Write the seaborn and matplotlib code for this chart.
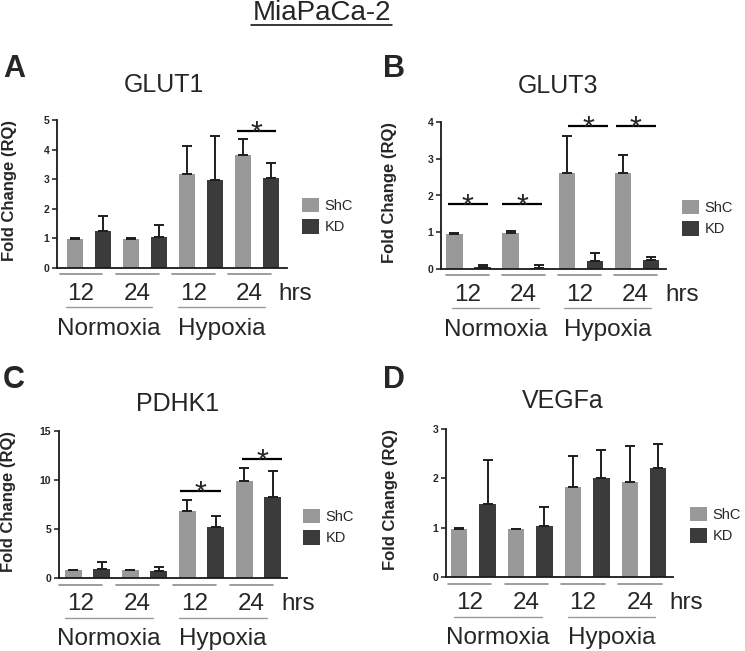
import numpy as np
import pandas as pd
import seaborn as sns
import matplotlib
matplotlib.use("Agg")
import matplotlib.pyplot as plt
from matplotlib.transforms import blended_transform_factory, ScaledTranslation
from matplotlib.lines import Line2D

# ---------------- data ----------------
conditions = ["Normoxia 12", "Normoxia 24", "Hypoxia 12", "Hypoxia 24"]
hour_labels = ["12", "24", "12", "24"]
oxygen_labels = ["Normoxia", "Hypoxia"]
groups = ["ShC", "KD"]

glut1_shc = [0.97, 0.97, 3.18, 3.81]
glut1_shc_top = [1.00, 1.00, 4.12, 4.36]
glut1_kd = [1.25, 1.05, 2.97, 3.04]
glut1_kd_top = [1.76, 1.44, 4.45, 3.56]

glut3_shc = [0.96, 0.99, 2.60, 2.60]
glut3_shc_top = [0.97, 1.04, 3.62, 3.10]
glut3_kd = [0.06, 0.04, 0.23, 0.24]
glut3_kd_top = [0.12, 0.11, 0.44, 0.34]

pdhk1_shc = [0.85, 0.85, 6.80, 9.88]
pdhk1_shc_top = [0.85, 0.85, 7.95, 11.25]
pdhk1_kd = [0.87, 0.75, 5.20, 8.30]
pdhk1_kd_top = [1.60, 1.10, 6.30, 10.90]

vegfa_shc = [0.98, 0.98, 1.83, 1.93]
vegfa_shc_top = [1.00, 0.98, 2.45, 2.66]
vegfa_kd = [1.48, 1.04, 2.00, 2.21]
vegfa_kd_top = [2.38, 1.41, 2.57, 2.70]

# significance: (condition index, level, x shift)
glut1_sig = [(3, 4.63, 0.0)]
glut3_sig = [(0, 1.76, 0.0), (1, 1.76, -0.03), (2, 3.88, 0.15), (3, 3.88, 0.0)]
pdhk1_sig = [(2, 8.88, 0.0), (3, 12.1, 0.08)]
vegfa_sig = []

panels = [
    dict(letter="A", title="GLUT1", shc=glut1_shc, shc_top=glut1_shc_top, kd=glut1_kd, kd_top=glut1_kd_top,
         sig=glut1_sig, yticks=[0, 1, 2, 3, 4, 5], under_shift=-0.14,
         rect=(57, 287, 120, 268), xlim=(-0.57, 3.53), title_xy=(164, 91.7), letter_xy=(3, 77),
         ylab_xy=(9.5, 190.5), leg_xy=(302, 198)),
    dict(letter="B", title="GLUT3", shc=glut3_shc, shc_top=glut3_shc_top, kd=glut3_kd, kd_top=glut3_kd_top,
         sig=glut3_sig, yticks=[0, 1, 2, 3, 4], under_shift=-0.02,
         rect=(441, 666, 122, 269), xlim=(-0.49, 3.52), title_xy=(558, 93.3), letter_xy=(383, 77),
         ylab_xy=(389, 192), leg_xy=(682, 200)),
    dict(letter="C", title="PDHK1", shc=pdhk1_shc, shc_top=pdhk1_shc_top, kd=pdhk1_kd, kd_top=pdhk1_kd_top,
         sig=pdhk1_sig, yticks=[0, 5, 10, 15], under_shift=-0.12,
         rect=(59, 287, 431, 578), xlim=(-0.50, 3.50), title_xy=(177.5, 410.7), letter_xy=(3, 388),
         ylab_xy=(9, 502), leg_xy=(303, 509)),
    dict(letter="D", title="VEGFa", shc=vegfa_shc, shc_top=vegfa_shc_top, kd=vegfa_kd, kd_top=vegfa_kd_top,
         sig=vegfa_sig, yticks=[0, 1, 2, 3], under_shift=-0.07,
         rect=(446, 673, 429, 577), xlim=(-0.48, 3.51), title_xy=(562.5, 408.3), letter_xy=(383, 388),
         ylab_xy=(391, 500), leg_xy=(690, 507)),
]

# ---------------- style ----------------
sns.set_style("ticks")
plt.rcParams["font.family"] = ["Liberation Sans", "DejaVu Sans"]
W, H = 745, 651
fig = plt.figure(figsize=(W / 100, H / 100), dpi=100)
c_shc, c_kd = "#999999", "#3b3b3b"
big = 17.5


def fx(x):
    return x / W


def fy(y):
    return 1 - y / H


def below(ax, px):
    return blended_transform_factory(ax.transData, ax.transAxes) + \
        ScaledTranslation(0, -px / 100, fig.dpi_scale_trans)


fig.text(fx(322), fy(20), "MiaPaCa-2", fontsize=20, ha="center", va="baseline")
fig.add_artist(Line2D([fx(251.5), fx(392.5)], [fy(24.5), fy(24.5)], color="black", lw=1.1,
                      transform=fig.transFigure))

for p in panels:
    l, r, t, b = p["rect"]
    ax = fig.add_axes([fx(l), fy(b), (r - l) / W, (b - t) / H])
    df = pd.DataFrame({
        "condition": conditions * 2,
        "group": [groups[0]] * 4 + [groups[1]] * 4,
        "value": list(p["shc"]) + list(p["kd"]),
    })
    sns.barplot(data=df, x="condition", y="value", hue="group", order=conditions, hue_order=groups,
                palette=[c_shc, c_kd], saturation=1, width=1.0, gap=0.42, errorbar=None,
                legend=False, ax=ax, linewidth=0)
    # error bars (upper only)
    for cont, means, tops in zip(ax.containers, [p["shc"], p["kd"]], [p["shc_top"], p["kd_top"]]):
        xs = [bar.get_x() + bar.get_width() / 2 for bar in cont]
        means = np.array(means)
        up = np.array(tops) - means
        ax.errorbar(xs, means, yerr=[np.zeros_like(up), up], fmt="none", ecolor="#1e1e1e",
                    elinewidth=1.4, capsize=3.8, capthick=1.4, zorder=3)

    ymax = p["yticks"][-1]
    ax.set_ylim(0, ymax)
    ax.set_xlim(*p["xlim"])
    ax.set_yticks(p["yticks"])
    ax.set_yticklabels([str(v) for v in p["yticks"]], fontsize=7.5, fontweight="bold")
    ax.set_xticks([])
    ax.set_xlabel("")
    ax.set_ylabel("")
    sns.despine(ax=ax)
    for s in ["left", "bottom"]:
        ax.spines[s].set_linewidth(1.3)
        ax.spines[s].set_color("#1a1a1a")
    ax.tick_params(axis="y", length=3.5, width=1.1, pad=2, color="#1a1a1a")

    # significance bars
    for gi, lev, sh in p["sig"]:
        x0, x1 = gi - 0.37 + sh, gi + 0.34 + sh
        ax.plot([x0, x1], [lev, lev], color="black", lw=1.6, clip_on=False, solid_capstyle="butt")
        ax.annotate("*", xy=((x0 + x1) / 2, lev), xytext=(0, -8.4), textcoords="offset points",
                    ha="center", va="baseline", fontsize=22, annotation_clip=False)

    # category annotations beneath axis
    us = p["under_shift"]
    for i in range(len(conditions)):
        g = i + us
        ax.add_line(Line2D([g - 0.38, g + 0.38], [0, 0], color="#8c8c8c", lw=1.2,
                           transform=below(ax, 6.5), clip_on=False))
        ax.text(g, 0, hour_labels[i], transform=below(ax, 32), ha="center", va="baseline",
                fontsize=big)
    ax.text(3 + us + 0.52, 0, "hrs", transform=below(ax, 32), ha="left", va="baseline", fontsize=big)
    for k, name in enumerate(oxygen_labels):
        mid = 2 * k + 0.5 + us
        ax.add_line(Line2D([mid - 0.77, mid + 0.77], [0, 0], color="#9a9a9a", lw=1.0,
                           transform=below(ax, 39.5), clip_on=False))
        ax.text(mid, 0, name, transform=below(ax, 67), ha="center", va="baseline", fontsize=big)

    # legend
    ax.legend(handles=list(ax.containers), labels=groups, loc="upper left",
              bbox_to_anchor=(fx(p["leg_xy"][0]), fy(p["leg_xy"][1])), bbox_transform=fig.transFigure,
              frameon=False, fontsize=10.5, handlelength=1.15, handleheight=1.15, handletextpad=0.4,
              labelspacing=0.42, borderpad=0, borderaxespad=0)

    fig.text(fx(p["title_xy"][0]), fy(p["title_xy"][1]), p["title"], fontsize=18, ha="center",
             va="baseline")
    fig.text(fx(p["letter_xy"][0]), fy(p["letter_xy"][1]), p["letter"], fontsize=22,
             fontweight="bold", ha="left", va="baseline")
    fig.text(fx(p["ylab_xy"][0]), fy(p["ylab_xy"][1]), "Fold Change (RQ)", fontsize=12,
             fontweight="bold", rotation=90, ha="center", va="center")

fig.savefig("out.png", dpi=100)
